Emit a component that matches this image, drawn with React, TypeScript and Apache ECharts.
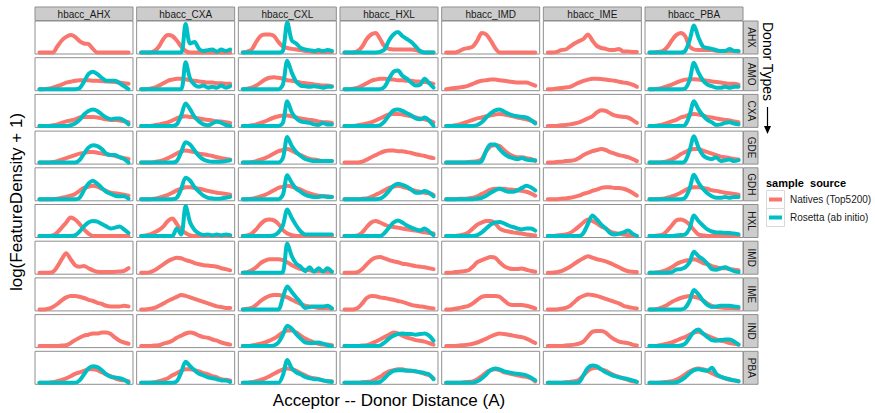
import { useEffect, useRef } from "react";
import * as echarts from "echarts";

// Facet labels
const acceptorTypes = ["hbacc_AHX", "hbacc_CXA", "hbacc_CXL", "hbacc_HXL", "hbacc_IMD", "hbacc_IME", "hbacc_PBA"];
const donorTypes = ["AHX", "AMO", "CXA", "GDE", "GDH", "HXL", "IMD", "IME", "IND", "PBA"];
const sourceNames = ["Natives (Top5200)", "Rosetta (ab initio)"];
const sourceColors = ["#F8766D", "#00BFC4"];

// Distance bins (evenly spaced over the plotted distance range)
const distanceBins = [0, 1, 2, 3, 4, 5, 6, 7, 8, 9, 10, 11, 12, 13, 14, 15, 16, 17, 18, 19, 20];

// Density curves (log(FeatureDensity+1), scaled 0-100 per panel); one array per acceptor column
const natives_AHX = [
  [0, 0, 0, 0, 20, 40, 52, 58, 52, 38, 30, 28, 12, 0, 0, 0, 0, 0, 0, 0, 0],
  [0, 0, 0, 5, 20, 45, 58, 55, 40, 20, 5, 0, 0, 0, 0, 0, 0, 0, 0, 0, 0],
  [0, 3, 10, 35, 55, 60, 60, 55, 35, 20, 15, 12, 10, 8, 5, 3, 2, 2, 2, 2, 2],
  [0, 0, 0, 5, 20, 45, 60, 65, 45, 20, 12, 10, 10, 10, 10, 10, 8, 3, 0, 0, 0],
  [0, 0, 0, 5, 12, 15, 20, 40, 65, 60, 40, 15, 0, 0, 0, 0, 0, 0, 0, 0, 0],
  [0, 0, 2, 8, 10, 20, 30, 38, 45, 60, 40, 22, 15, 12, 8, 8, 12, 3, 3, 2, 2],
  [0, 0, 2, 5, 18, 40, 58, 65, 55, 20, 10, 8, 8, 8, 8, 6, 5, 5, 5, 5, 3],
];
const rosetta_AHX = [
  null,
  [0, 0, 0, 0, 0, 0, 0, 0, 0, 0, 95, 30, 35, 12, 5, 8, 10, 3, 10, 5, 10],
  [0, 0, 0, 0, 0, 0, 0, 0, 0, 5, 100, 40, 30, 15, 10, 8, 5, 8, 5, 8, 5],
  [0, 0, 0, 0, 0, 0, 0, 0, 2, 10, 40, 60, 68, 55, 45, 35, 20, 5, 0, 0, 0],
  null,
  null,
  [0, 0, 0, 0, 0, 0, 0, 0, 5, 40, 90, 50, 20, 15, 12, 8, 5, 5, 12, 5, 5],
];

const natives_AMO = [
  [0, 0, 2, 5, 10, 15, 22, 25, 28, 30, 30, 30, 28, 28, 27, 26, 25, 24, 22, 20, 18],
  [0, 0, 2, 5, 12, 20, 28, 32, 35, 35, 33, 30, 28, 26, 24, 22, 22, 20, 20, 18, 18],
  [0, 2, 5, 12, 22, 32, 38, 40, 38, 35, 30, 28, 25, 22, 20, 18, 16, 14, 12, 12, 10],
  [0, 0, 2, 5, 12, 20, 28, 32, 35, 35, 33, 32, 30, 30, 28, 28, 26, 25, 24, 22, 18],
  [0, 2, 4, 6, 8, 12, 18, 24, 28, 30, 32, 32, 30, 28, 26, 24, 22, 22, 22, 18, 12],
  [0, 0, 2, 4, 6, 8, 15, 22, 28, 32, 35, 35, 34, 32, 30, 28, 25, 22, 20, 15, 8],
  [0, 0, 2, 5, 10, 15, 22, 28, 32, 33, 33, 32, 30, 28, 26, 24, 22, 20, 18, 18, 15],
];
const rosetta_AMO = [
  [0, 0, 0, 0, 0, 0, 0, 0, 0, 3, 25, 50, 58, 50, 38, 28, 28, 28, 20, 10, 0],
  [0, 0, 0, 0, 0, 0, 0, 0, 0, 0, 90, 35, 15, 8, 12, 5, 8, 5, 12, 5, 10],
  [0, 0, 0, 0, 0, 0, 0, 0, 0, 15, 95, 55, 25, 12, 10, 8, 10, 8, 5, 8, 8],
  [0, 0, 0, 0, 0, 0, 0, 0, 0, 8, 35, 58, 62, 45, 35, 22, 12, 15, 35, 20, 5],
  null,
  null,
  [0, 0, 0, 0, 0, 0, 0, 0, 2, 30, 88, 55, 30, 15, 10, 5, 5, 8, 5, 8, 8],
];

const natives_CXA = [
  [0, 0, 0, 2, 5, 10, 15, 18, 22, 28, 30, 30, 30, 28, 25, 22, 20, 20, 18, 15, 12],
  [0, 0, 0, 2, 5, 8, 12, 18, 25, 30, 32, 30, 28, 25, 22, 20, 18, 15, 15, 12, 10],
  [0, 0, 2, 5, 10, 15, 22, 28, 32, 35, 35, 32, 28, 25, 22, 20, 18, 15, 12, 12, 10],
  [0, 0, 0, 2, 5, 8, 12, 18, 25, 32, 38, 40, 40, 38, 35, 32, 28, 25, 22, 18, 12],
  [0, 0, 2, 5, 10, 15, 20, 25, 28, 32, 35, 38, 40, 38, 35, 32, 28, 25, 22, 18, 12],
  [0, 0, 0, 2, 3, 5, 8, 12, 18, 25, 32, 45, 52, 50, 42, 35, 32, 30, 28, 20, 10],
  [0, 0, 2, 5, 10, 15, 20, 28, 32, 38, 40, 38, 35, 30, 28, 25, 22, 20, 18, 15, 12],
];
const rosetta_CXA = [
  [0, 0, 0, 0, 0, 0, 0, 2, 8, 20, 38, 50, 55, 50, 38, 28, 22, 25, 25, 18, 5],
  [0, 0, 0, 0, 0, 0, 0, 0, 5, 35, 75, 55, 30, 15, 5, 2, 8, 15, 10, 3, 0],
  [0, 0, 0, 0, 0, 0, 0, 0, 0, 10, 82, 45, 25, 15, 12, 10, 5, 3, 10, 5, 5],
  [0, 0, 0, 0, 0, 0, 0, 0, 2, 15, 35, 52, 55, 50, 42, 35, 25, 22, 28, 18, 0],
  [0, 0, 0, 0, 0, 0, 0, 3, 12, 28, 42, 52, 55, 48, 40, 35, 32, 30, 28, 20, 8],
  null,
  [0, 0, 0, 0, 0, 0, 0, 0, 3, 35, 82, 55, 35, 20, 12, 3, 5, 10, 12, 8, 5],
];

const natives_GDE = [
  [0, 0, 0, 2, 5, 10, 15, 20, 25, 30, 32, 35, 35, 33, 30, 28, 25, 22, 18, 15, 12],
  [0, 0, 0, 2, 5, 8, 15, 22, 30, 38, 40, 38, 35, 30, 28, 25, 22, 18, 15, 12, 10],
  [0, 0, 2, 5, 10, 15, 22, 30, 38, 42, 45, 40, 32, 25, 18, 12, 10, 8, 5, 5, 5],
  [0, 0, 0, 0, 3, 10, 18, 25, 32, 38, 40, 40, 38, 38, 35, 32, 28, 25, 22, 18, 15],
  [0, 0, 0, 0, 0, 2, 3, 5, 12, 38, 55, 58, 55, 42, 30, 22, 18, 18, 15, 12, 5],
  [0, 0, 2, 3, 5, 6, 8, 15, 25, 32, 38, 42, 45, 42, 35, 30, 25, 22, 18, 12, 5],
  [0, 0, 0, 2, 5, 10, 18, 28, 35, 42, 45, 45, 40, 35, 30, 25, 20, 18, 15, 12, 10],
];
const rosetta_GDE = [
  [0, 0, 0, 0, 0, 0, 0, 0, 0, 8, 30, 50, 58, 55, 45, 30, 25, 25, 18, 12, 0],
  [0, 0, 0, 0, 0, 0, 0, 0, 5, 35, 68, 60, 40, 22, 10, 5, 3, 3, 3, 5, 8],
  [0, 0, 0, 0, 0, 0, 0, 0, 0, 15, 85, 55, 35, 22, 12, 8, 5, 5, 5, 5, 5],
  null,
  [0, 0, 0, 0, 0, 0, 0, 0, 5, 40, 60, 60, 45, 30, 20, 15, 12, 15, 10, 8, 8],
  null,
  [0, 0, 0, 0, 0, 0, 0, 0, 5, 40, 88, 50, 25, 15, 12, 18, 5, 8, 10, 5, 8],
];

const natives_GDH = [
  [0, 0, 0, 0, 2, 5, 8, 12, 18, 28, 38, 42, 45, 42, 35, 28, 22, 20, 18, 15, 12],
  [0, 0, 0, 2, 5, 10, 15, 22, 30, 35, 40, 40, 38, 35, 32, 28, 25, 22, 20, 18, 15],
  [0, 0, 2, 5, 10, 15, 22, 30, 38, 42, 45, 42, 38, 32, 25, 20, 15, 12, 10, 10, 8],
  [0, 0, 0, 0, 2, 3, 8, 15, 22, 30, 38, 42, 45, 42, 38, 32, 28, 25, 22, 20, 15],
  [0, 0, 0, 2, 2, 3, 5, 10, 18, 25, 32, 35, 35, 35, 33, 32, 30, 28, 25, 20, 12],
  [0, 0, 0, 2, 3, 5, 8, 12, 18, 22, 28, 32, 38, 40, 40, 38, 38, 35, 30, 22, 12],
  [0, 0, 0, 2, 5, 10, 15, 22, 30, 38, 40, 40, 38, 35, 30, 28, 25, 22, 20, 18, 15],
];
const rosetta_GDH = [
  [0, 0, 0, 0, 0, 0, 0, 0, 0, 5, 30, 52, 62, 52, 38, 25, 18, 12, 10, 10, 2],
  [0, 0, 0, 0, 0, 0, 0, 0, 5, 35, 72, 62, 40, 25, 12, 5, 3, 2, 3, 5, 8],
  [0, 0, 0, 0, 0, 0, 0, 0, 0, 15, 80, 55, 35, 25, 15, 10, 8, 8, 10, 8, 8],
  [0, 0, 0, 0, 0, 0, 0, 0, 2, 12, 28, 45, 52, 48, 42, 32, 22, 22, 28, 22, 10],
  [0, 0, 0, 0, 0, 0, 0, 2, 5, 12, 22, 30, 35, 30, 25, 25, 30, 38, 45, 40, 30],
  null,
  [0, 0, 0, 0, 0, 0, 0, 0, 5, 35, 82, 55, 35, 20, 10, 5, 5, 8, 5, 8, 8],
];

const natives_HXL = [
  [0, 0, 0, 2, 12, 28, 45, 62, 55, 40, 22, 8, 0, 0, 0, 0, 0, 0, 0, 0, 0],
  [0, 2, 5, 12, 20, 32, 50, 58, 40, 20, 10, 2, 0, 0, 0, 0, 0, 0, 0, 0, 0],
  [0, 2, 8, 22, 40, 52, 55, 52, 40, 20, 8, 3, 0, 0, 0, 0, 0, 0, 0, 0, 0],
  [0, 0, 0, 2, 12, 30, 45, 50, 45, 38, 32, 30, 28, 25, 22, 20, 18, 15, 12, 10, 8],
  [0, 0, 0, 2, 5, 12, 25, 38, 45, 50, 50, 42, 25, 18, 15, 12, 10, 8, 5, 3, 2],
  [0, 0, 2, 3, 5, 10, 20, 32, 45, 55, 50, 42, 32, 25, 15, 10, 8, 5, 3, 2, 0],
  [0, 0, 2, 5, 18, 35, 52, 55, 50, 38, 20, 5, 2, 0, 0, 0, 0, 0, 0, 0, 0],
];
const rosetta_HXL = [
  [0, 0, 0, 0, 0, 0, 0, 0, 2, 15, 32, 45, 50, 48, 40, 32, 25, 28, 32, 22, 10],
  [0, 0, 0, 0, 0, 0, 0, 0, 25, 5, 100, 45, 20, 8, 3, 5, 2, 5, 2, 5, 3],
  [0, 0, 0, 0, 0, 0, 0, 2, 12, 35, 88, 60, 35, 15, 5, 5, 5, 5, 5, 5, 5],
  [0, 0, 0, 0, 0, 0, 0, 0, 0, 10, 28, 45, 52, 45, 35, 28, 22, 18, 25, 15, 3],
  [0, 0, 0, 0, 0, 0, 0, 3, 12, 25, 38, 45, 47, 42, 35, 30, 25, 22, 25, 25, 18],
  [0, 0, 0, 0, 0, 0, 0, 0, 10, 40, 68, 55, 38, 25, 10, 5, 8, 12, 18, 8, 0],
  [0, 0, 0, 0, 0, 0, 2, 3, 5, 25, 68, 50, 35, 22, 15, 12, 12, 10, 10, 8, 6],
];

const natives_IMD = [
  [0, 0, 0, 2, 20, 45, 65, 45, 25, 20, 22, 15, 8, 3, 2, 2, 2, 3, 4, 6, 15],
  [0, 0, 2, 8, 18, 28, 38, 45, 50, 48, 42, 38, 32, 28, 25, 24, 22, 20, 15, 12, 8],
  [0, 2, 8, 18, 32, 40, 45, 45, 45, 42, 35, 25, 18, 12, 10, 8, 5, 5, 5, 3, 3],
  [0, 0, 0, 2, 12, 28, 42, 50, 52, 48, 42, 38, 35, 30, 28, 25, 22, 20, 18, 15, 12],
  [0, 0, 2, 3, 5, 8, 20, 35, 42, 48, 52, 50, 35, 22, 15, 12, 12, 14, 10, 6, 3],
  [0, 0, 2, 5, 12, 20, 30, 40, 48, 55, 50, 45, 42, 38, 32, 25, 18, 10, 5, 3, 2],
  [0, 0, 2, 5, 10, 18, 28, 35, 40, 42, 45, 40, 32, 28, 22, 18, 15, 15, 12, 10, 8],
];
const rosetta_IMD = [
  null,
  null,
  [0, 0, 0, 0, 0, 0, 0, 0, 0, 2, 97, 55, 30, 20, 5, 18, 3, 15, 3, 15, 3],
  null,
  null,
  null,
  [0, 0, 0, 0, 0, 2, 10, 12, 18, 35, 70, 55, 45, 30, 12, 10, 15, 18, 12, 5, 2],
];

const natives_IME = [
  [0, 0, 2, 8, 18, 30, 40, 45, 45, 42, 38, 32, 28, 22, 18, 12, 10, 10, 10, 12, 10],
  [0, 0, 2, 5, 12, 20, 28, 35, 42, 48, 45, 40, 35, 30, 25, 20, 15, 10, 8, 5, 5],
  [0, 2, 5, 15, 28, 38, 45, 48, 48, 45, 40, 32, 25, 18, 12, 10, 8, 5, 5, 5, 3],
  [0, 0, 0, 5, 20, 38, 45, 44, 40, 38, 35, 32, 28, 25, 20, 15, 12, 10, 8, 5, 3],
  [0, 0, 2, 5, 8, 12, 20, 32, 42, 45, 45, 45, 42, 30, 18, 15, 15, 15, 12, 8, 3],
  [0, 0, 0, 2, 5, 12, 25, 38, 45, 50, 48, 45, 40, 35, 30, 25, 20, 12, 8, 5, 3],
  [0, 0, 2, 8, 15, 25, 32, 38, 42, 45, 42, 38, 30, 20, 12, 8, 6, 5, 5, 5, 3],
];
const rosetta_IME = [
  null,
  null,
  [0, 0, 0, 0, 0, 0, 0, 0, 0, 40, 76, 58, 40, 22, 5, 8, 10, 10, 10, 12, 3],
  null,
  null,
  null,
  [0, 0, 0, 0, 0, 0, 0, 0, 5, 28, 65, 50, 30, 15, 8, 10, 12, 12, 12, 10, 8],
];

const natives_IND = [
  [0, 0, 0, 0, 0, 2, 3, 10, 20, 28, 35, 38, 42, 42, 45, 45, 40, 28, 18, 12, 8],
  [0, 0, 0, 2, 3, 8, 12, 18, 28, 35, 42, 45, 42, 35, 30, 28, 22, 18, 12, 8, 5],
  [0, 0, 2, 5, 8, 12, 18, 25, 35, 45, 52, 52, 45, 35, 25, 18, 12, 8, 5, 5, 3],
  [0, 0, 0, 0, 2, 3, 8, 15, 22, 30, 38, 45, 42, 35, 28, 25, 20, 18, 15, 10, 5],
  [0, 0, 0, 2, 3, 5, 8, 12, 18, 25, 32, 38, 42, 40, 38, 35, 32, 30, 25, 18, 10],
  [0, 0, 0, 0, 2, 3, 5, 8, 15, 32, 48, 50, 50, 45, 32, 22, 15, 12, 10, 5, 2],
  [0, 0, 2, 5, 8, 12, 18, 25, 30, 38, 45, 48, 42, 35, 28, 22, 18, 15, 10, 8, 5],
];
const rosetta_IND = [
  null,
  null,
  [0, 0, 0, 0, 0, 0, 0, 2, 12, 38, 68, 58, 40, 25, 12, 10, 10, 12, 8, 3, 0],
  [0, 0, 0, 0, 0, 0, 0, 0, 2, 12, 25, 35, 40, 42, 40, 40, 38, 40, 42, 35, 18],
  null,
  null,
  [0, 0, 0, 0, 0, 0, 0, 2, 8, 28, 48, 55, 42, 30, 20, 18, 20, 22, 22, 15, 5],
];

const natives_PBA = [
  [0, 0, 0, 2, 5, 10, 15, 22, 30, 35, 40, 45, 45, 42, 35, 28, 22, 15, 10, 8, 5],
  [0, 0, 0, 2, 5, 10, 15, 25, 32, 40, 45, 45, 42, 38, 32, 28, 22, 18, 12, 10, 8],
  [0, 0, 2, 5, 10, 15, 22, 30, 38, 45, 48, 45, 40, 32, 25, 18, 15, 12, 8, 5, 5],
  [0, 0, 0, 0, 2, 3, 5, 12, 20, 30, 38, 42, 45, 45, 42, 40, 38, 35, 30, 25, 15],
  [0, 0, 0, 0, 2, 3, 5, 12, 22, 35, 42, 45, 42, 35, 32, 28, 25, 22, 20, 15, 5],
  [0, 0, 0, 0, 2, 3, 5, 10, 25, 40, 48, 50, 45, 40, 32, 25, 20, 15, 10, 5, 3],
  [0, 0, 0, 2, 3, 5, 10, 18, 28, 38, 45, 48, 45, 40, 32, 25, 20, 15, 10, 8, 5],
];
const rosetta_PBA = [
  [0, 0, 0, 0, 0, 0, 0, 0, 0, 8, 28, 48, 55, 52, 42, 28, 20, 18, 15, 10, 0],
  [0, 0, 0, 0, 0, 0, 0, 0, 5, 35, 70, 55, 42, 30, 25, 18, 15, 12, 8, 8, 3],
  [0, 0, 0, 0, 0, 0, 0, 0, 0, 25, 76, 48, 35, 28, 20, 15, 12, 12, 8, 5, 3],
  [0, 0, 0, 0, 0, 0, 0, 0, 3, 15, 30, 40, 42, 42, 40, 40, 38, 35, 32, 28, 12],
  [0, 0, 0, 0, 0, 0, 0, 5, 15, 28, 42, 48, 45, 38, 35, 32, 30, 28, 25, 18, 8],
  [0, 0, 0, 0, 0, 0, 0, 2, 25, 50, 58, 55, 45, 35, 28, 22, 18, 15, 12, 8, 3],
  [0, 0, 0, 0, 0, 0, 2, 8, 18, 32, 42, 45, 42, 40, 50, 30, 20, 15, 12, 8, 5],
];

const nativesByDonor = [natives_AHX, natives_AMO, natives_CXA, natives_GDE, natives_GDH, natives_HXL, natives_IMD, natives_IME, natives_IND, natives_PBA];
const rosettaByDonor = [rosetta_AHX, rosetta_AMO, rosetta_CXA, rosetta_GDE, rosetta_GDH, rosetta_HXL, rosetta_IMD, rosetta_IME, rosetta_IND, rosetta_PBA];

const FONT = "'Liberation Sans', Arial, Helvetica, sans-serif";

function buildOption() {
  const PL = 35, PX = 101.67, PW = 98;
  const PT = 21, PY = 36.7, PH = 33;
  const border = "#8f8f8f";
  const grid: any[] = [], xAxis: any[] = [], yAxis: any[] = [], series: any[] = [], graphic: any[] = [];
  let k = 0;
  donorTypes.forEach((d, r) => {
    acceptorTypes.forEach((a, c) => {
      const left = PL + c * PX, top = PT + r * PY;
      grid.push({ left, top, width: PW, height: PH, show: true, backgroundColor: "#ffffff", borderColor: border, borderWidth: 1 });
      xAxis.push({ type: "value", gridIndex: k, min: -1, max: 21, show: false });
      yAxis.push({ type: "value", gridIndex: k, min: -5, max: 105, show: false });
      const curves = [nativesByDonor[r][c], rosettaByDonor[r][c]];
      curves.forEach((vals, s) => {
        if (!vals) return;
        series.push({
          type: "line", name: sourceNames[s], xAxisIndex: k, yAxisIndex: k,
          data: distanceBins.map((x, i) => [x, vals[i]]),
          showSymbol: false, symbol: "none", smooth: 0.3, silent: true,
          lineStyle: { width: 4, color: sourceColors[s], cap: "round", join: "round" },
          z: 2 + s,
        });
      });
      k++;
    });
  });
  // top strips
  acceptorTypes.forEach((a, c) => {
    const left = PL + c * PX;
    graphic.push({ type: "rect", shape: { x: left, y: 7, width: PW, height: 13.5 }, style: { fill: "#cccccc", stroke: border, lineWidth: 1 } });
    graphic.push({ type: "text", x: left + PW / 2, y: 14, style: { text: a, fill: "#1a1a1a", fontSize: 10, fontFamily: FONT, textAlign: "center", textVerticalAlign: "middle" } });
  });
  // right strips
  donorTypes.forEach((d, r) => {
    const top = PT + r * PY;
    graphic.push({ type: "rect", shape: { x: 743.5, y: top, width: 14.5, height: PH }, style: { fill: "#cccccc", stroke: border, lineWidth: 1 } });
    graphic.push({ type: "text", x: 751, y: top + PH / 2, rotation: -Math.PI / 2, style: { text: d, fill: "#1a1a1a", fontSize: 10, fontFamily: FONT, textAlign: "center", textVerticalAlign: "middle" } });
  });
  // title, cut off by the top edge as in the reference
  graphic.push({ type: "text", x: 386, y: -0.5, style: { text: "(normalized for volume per unit distance)", fill: "#000", fontSize: 16, fontFamily: FONT, textAlign: "center", textVerticalAlign: "bottom" } });
  // axis titles
  graphic.push({ type: "text", x: 16, y: 202, rotation: Math.PI / 2, style: { text: "log(FeatureDensity + 1)", fill: "#000", fontSize: 17, fontFamily: FONT, textAlign: "center", textVerticalAlign: "middle" } });
  graphic.push({ type: "text", x: 389, y: 400, style: { text: "Acceptor -- Donor Distance (A)", fill: "#000", fontSize: 17, fontFamily: FONT, textAlign: "center", textVerticalAlign: "middle" } });
  // donor types label with arrow
  graphic.push({ type: "text", x: 768, y: 22, rotation: -Math.PI / 2, style: { text: "Donor Types", fill: "#000", fontSize: 14, fontFamily: FONT, textAlign: "left", textVerticalAlign: "middle" } });
  graphic.push({ type: "line", shape: { x1: 767.5, y1: 107, x2: 767.5, y2: 128 }, style: { stroke: "#000", lineWidth: 1.2 } });
  graphic.push({ type: "polygon", shape: { points: [[764, 126], [771, 126], [767.5, 134]] }, style: { fill: "#000" } });
  // legend
  graphic.push({ type: "text", x: 766, y: 183, style: { text: "sample  source", fill: "#000", fontSize: 11, fontWeight: "bold", fontFamily: FONT, textAlign: "left", textVerticalAlign: "middle" } });
  sourceNames.forEach((n, s) => {
    const y = 190 + s * 18;
    graphic.push({ type: "rect", shape: { x: 766.5, y: y + 0.5, width: 18, height: 18 }, style: { fill: "#ffffff", stroke: "#d9d9d9", lineWidth: 1 } });
    graphic.push({ type: "line", shape: { x1: 769, y1: y + 9.5, x2: 782, y2: y + 9.5 }, style: { stroke: sourceColors[s], lineWidth: 4 } });
    graphic.push({ type: "text", x: 790, y: y + 9.5, style: { text: n, fill: "#1a1a1a", fontSize: 10, fontFamily: FONT, textAlign: "left", textVerticalAlign: "middle" } });
  });
  return { animation: false, backgroundColor: "#ffffff", grid, xAxis, yAxis, series, graphic };
}

export default function App() {
  const ref = useRef<HTMLDivElement>(null);
  useEffect(() => {
    document.body.style.margin = "0";
    if (!ref.current) return;
    const chart = echarts.init(ref.current, null, { renderer: "svg" });
    chart.setOption(buildOption() as any);
    return () => chart.dispose();
  }, []);
  return <div ref={ref} style={{ width: 875, height: 413 }} />;
}
